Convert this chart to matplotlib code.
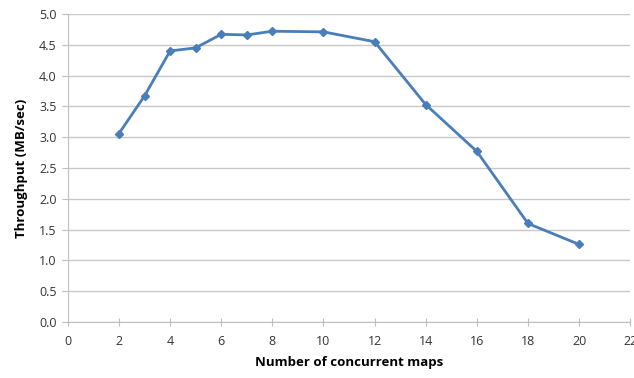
import matplotlib
matplotlib.use("Agg")
import matplotlib.pyplot as plt

maps = [2, 3, 4, 5, 6, 7, 8, 10, 12, 14, 16, 18, 20]
throughput = [3.06, 3.67, 4.40, 4.45, 4.67, 4.66, 4.72, 4.71, 4.55, 3.53, 2.77, 1.60, 1.26]
x_ticks = list(range(0, 23, 2))
y_ticks = [i * 0.5 for i in range(11)]

plt.rcParams['font.family'] = ['Open Sans', 'DejaVu Sans']

fig = plt.figure(figsize=(6.34, 3.78), dpi=100)
ax = fig.add_axes([0.107, 0.148, 0.887, 0.815])

ax.plot(maps, throughput, color="#4a7ebb", linewidth=2, marker="D", markersize=4.5, zorder=3)

ax.set_xlim(0, 22)
ax.set_ylim(0, 5)
ax.set_xticks(x_ticks)
ax.set_yticks(y_ticks)
ax.set_yticklabels([f"{v:.1f}" for v in y_ticks])

ax.grid(True, axis="y", color="#c8c8c8", linewidth=1)
ax.set_axisbelow(True)
for s in ["top", "right"]:
    ax.spines[s].set_visible(False)
ax.spines["left"].set_color("#bfbfbf")
ax.spines["bottom"].set_color("#bfbfbf")

ax.tick_params(axis="x", direction="inout", length=6, color="#bfbfbf", labelsize=9, labelcolor="#333333", pad=6)
ax.tick_params(axis="y", direction="out", length=4, color="#bfbfbf", labelsize=9, labelcolor="#333333", pad=4)

ax.set_xlabel("Number of concurrent maps", fontsize=9.5, fontweight="bold", labelpad=6)
ax.set_ylabel("Throughput (MB/sec)", fontsize=9.5, fontweight="bold", labelpad=8)

fig.savefig("out.png", dpi=100)
